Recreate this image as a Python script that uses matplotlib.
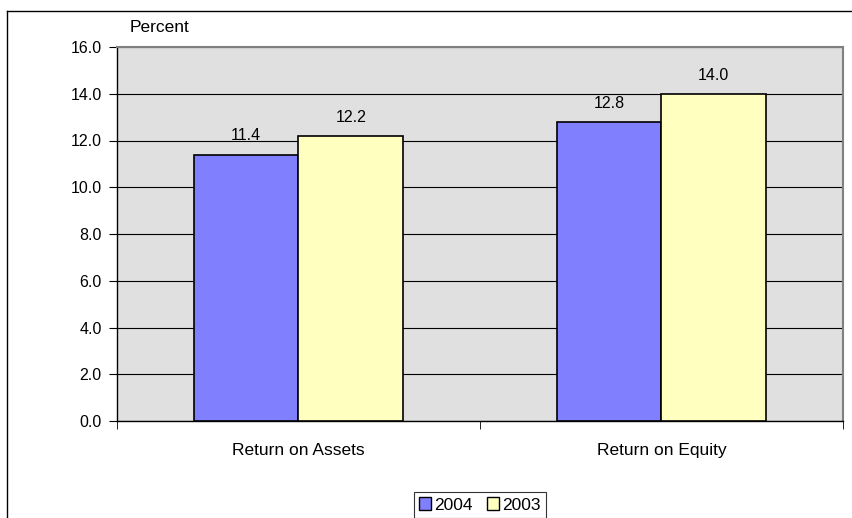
import matplotlib
matplotlib.use("Agg")
import matplotlib.pyplot as plt
from matplotlib.lines import Line2D
from matplotlib.patches import Patch
import numpy as np

plt.rcParams['font.family'] = ['Liberation Sans', 'DejaVu Sans']

categories = ["Return on Assets", "Return on Equity"]
series_names = ["2004", "2003"]
values_2004 = [11.4, 12.8]
values_2003 = [12.2, 14.0]
colors = ["#8080FF", "#FFFFC0"]
y_ticks = [0, 2, 4, 6, 8, 10, 12, 14, 16]

fig = plt.figure(figsize=(8.53, 5.18), dpi=100)
ax = fig.add_axes([117/853, 1-421/518, (843-117)/853, (421-47)/518])
ax.set_facecolor("#E0E0E0")

x = np.arange(len(categories))
w = 0.288
fs = 11.5
for i, (vals, name, col) in enumerate(zip([values_2004, values_2003], series_names, colors)):
    pos = x + (i - 0.5) * w
    ax.bar(pos, vals, width=w, color=col, edgecolor="black", linewidth=1.2, label=name, zorder=3)
    for p, v in zip(pos, vals):
        ax.annotate(f"{v:.1f}", (p, v), xytext=(0, 8), textcoords="offset points",
                    ha="center", va="bottom", fontsize=fs)

ax.set_xlim(-0.5, len(categories) - 0.5)
ax.set_ylim(0, 16)
ax.set_yticks(y_ticks)
ax.set_yticklabels([f"{t:.1f}" for t in y_ticks], fontsize=fs)
ax.yaxis.grid(True, color="black", linewidth=0.8, zorder=0)
ax.set_axisbelow(True)
ax.set_xticks(x)
ax.set_xticklabels(categories, fontsize=12.5)
ax.tick_params(axis="x", length=0, pad=16)
ax.set_xticks([-0.5, 0.5, 1.5], minor=True)
ax.tick_params(axis="x", which="minor", length=6, direction="out", color="black")
ax.tick_params(axis="y", length=6, direction="out", pad=5)
for s in ["top", "right"]:
    ax.spines[s].set_color("#808080")
    ax.spines[s].set_linewidth(1.5)
for s in ["left", "bottom"]:
    ax.spines[s].set_color("black")
    ax.spines[s].set_linewidth(1.0)

fig.text(130/853, 1-28/518, "Percent", fontsize=12.5, ha="left", va="center")

handles = [Patch(facecolor=c, edgecolor="black", linewidth=1.0) for c in colors]
leg = fig.legend(handles, series_names, loc="center", bbox_to_anchor=(480/853, 1-505/518),
                 ncol=2, fontsize=12.5, frameon=True, fancybox=False, edgecolor="black",
                 handlelength=0.7, handleheight=0.7, handletextpad=0.2, columnspacing=0.8,
                 borderpad=0.3, borderaxespad=0)
leg.get_frame().set_linewidth(0.8)

fig.add_artist(Line2D([7/853, 7/853], [0, 1-11/518], color="black", linewidth=1.0, transform=fig.transFigure))
fig.add_artist(Line2D([7/853, 851/853], [1-11/518, 1-11/518], color="black", linewidth=1.0, transform=fig.transFigure))

fig.savefig("out.png", dpi=100)
